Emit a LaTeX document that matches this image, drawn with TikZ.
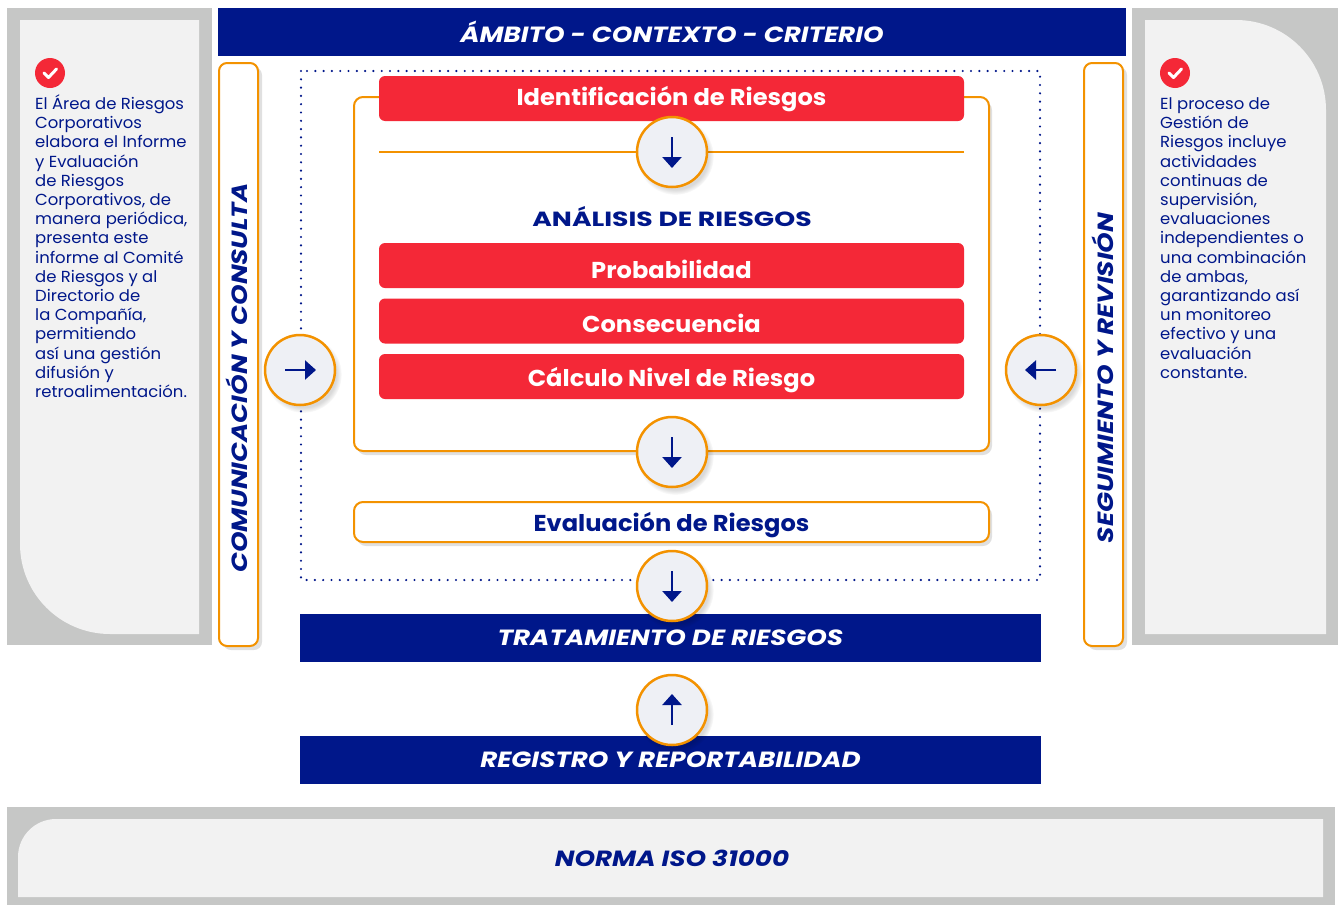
\documentclass[tikz,border=0pt]{standalone}
\usepackage{fontspec}
\setmainfont{Poppins}[FakeStretch=1.03]
\newfontfamily\capfont{Poppins}[FakeStretch=1.19]
\newfontfamily\analfont{Poppins}[FakeStretch=1.3]
\newfontfamily\boxfont{Poppins}[FakeStretch=1.05]
\usetikzlibrary{shadows,arrows.meta}
\definecolor{navy}{HTML}{00178A}
\definecolor{rred}{HTML}{F42837}
\definecolor{orng}{HTML}{F39200}
\definecolor{pgray}{HTML}{C6C7C6}
\definecolor{pfill}{HTML}{F2F2F2}
\definecolor{cfill}{HTML}{EEF0F5}
\begin{document}
\begin{tikzpicture}[x=1pt,y=-1pt,
  bar/.style={fill=navy, text=white, minimum height=48pt, inner sep=0pt,
    font=\capfont\fontsize{22}{24}\selectfont\bfseries\itshape},
  redbox/.style={fill=rred, rounded corners=6pt, minimum width=585pt, minimum height=45pt,
    inner sep=0pt, text=white, text height=22pt, text depth=0pt,
    font=\boxfont\fontsize{23}{25}\selectfont\bfseries},
  obox/.style={draw=orng, line width=2pt, fill=white, rounded corners=9pt,
    drop shadow={shadow xshift=3pt, shadow yshift=-4pt, opacity=0.12, fill=black}},
  vbox/.style={draw=orng, line width=2pt, fill=white, rounded corners=8pt,
    minimum width=39pt, minimum height=583pt, inner sep=0pt,
    drop shadow={shadow xshift=4pt, shadow yshift=-4pt, opacity=0.12, fill=black}},
  vlabel/.style={rotate=90, text=navy, inner sep=0pt, font=\capfont\fontsize{22}{24}\selectfont\bfseries\itshape},
  circ/.style={circle, draw=orng, line width=2.5pt, fill=cfill, minimum size=70pt, inner sep=0pt,
    circular drop shadow={shadow xshift=3pt, shadow yshift=-4pt, opacity=0.15, fill=black}},
  iconarrow/.style={navy, line width=2.6pt, -{Triangle[length=11pt,width=19pt]}},
  bodytext/.style={anchor=north west, align=left, inner sep=0pt, text=navy,
    font=\fontsize{16}{19.2}\selectfont},
  check/.style={circle, fill=rred, minimum size=30pt, inner sep=0pt},
  dotted box/.style={navy, line width=2.4pt, line cap=round, dash pattern=on 0pt off 8.3pt}
]
\useasboundingbox (0,0) rectangle (1338,905);
\fill[white] (0,0) rectangle (1338,905);

% side panels
\fill[pgray] (7,8) rectangle (212,645);
\fill[pfill] (20,20) -- (199,20) -- (199,634) -- (110,634)
  .. controls (60.3,634) and (20,593.7) .. (20,544) -- cycle;
\fill[pgray] (1132,8) rectangle (1338,645);
\fill[pfill] (1145,20) -- (1236,20) .. controls (1285.7,20) and (1326,60.3) .. (1326,110)
  -- (1326,634) -- (1145,634) -- cycle;
% bottom panel
\fill[pgray] (7,807) rectangle (1335,905);
\fill[pfill] (18,857) .. controls (18,836) and (35,819) .. (56,819) -- (1323,819) -- (1323,897) -- (18,897) -- cycle;
\node[text=navy, font=\capfont\fontsize{22}{24}\selectfont\bfseries\itshape] (iso) at (672,858) {NORMA ISO 31000};

% check icons and texts
\node[check] (chkL) at (50,73) {};
\draw[white, line width=3pt, line cap=round, line join=round] ([xshift=-6pt,yshift=0pt]chkL.center) -- ([xshift=-1.5pt,yshift=-4.5pt]chkL.center) -- ([xshift=6.5pt,yshift=4pt]chkL.center);
\node[check] (chkR) at (1175,73) {};
\draw[white, line width=3pt, line cap=round, line join=round] ([xshift=-6pt,yshift=0pt]chkR.center) -- ([xshift=-1.5pt,yshift=-4.5pt]chkR.center) -- ([xshift=6.5pt,yshift=4pt]chkR.center);

\node[bodytext] (txtL) at (35,94.5) {El Área de Riesgos\\Corporativos\\elabora el Informe\\y Evaluación\\de Riesgos\\Corporativos, de\\manera periódica,\\presenta este\\informe al Comité\\de Riesgos y al\\Directorio de\\la Compañía,\\permitiendo\\así una gestión\\difusión y\\retroalimentación.};
\node[bodytext] (txtR) at (1160,97.5) {El proceso de\\Gestión de\\Riesgos incluye\\actividades\\continuas de\\supervisión,\\evaluaciones\\independientes o\\una combinación\\de ambas,\\garantizando así\\un monitoreo\\efectivo y una\\evaluación\\constante.};

% top bar
\node[bar, minimum width=908pt] (ambito) at (672,32) {\raisebox{-4pt}{ÁMBITO - CONTEXTO - CRITERIO}};

% vertical boxes
\node[vbox] (comBox) at (238.5,354.5) {};
\node[vlabel] (comLbl) at (237,378) {COMUNICACIÓN Y CONSULTA};
\node[vbox] (segBox) at (1103.5,354.5) {};
\node[vlabel] (segLbl) at (1102.5,378) {SEGUIMIENTO Y REVISIÓN};

% dotted frame
\draw[dotted box] (301,71) rectangle (1040,580);

% analysis frame
\node[obox, minimum width=635pt, minimum height=354pt, inner sep=0pt] (frame) at (671.5,274) {};
\node[redbox, text height=18pt, text depth=4pt] (ident) at (671.5,98.5) {Identificación de Riesgos};
\draw[orng, line width=1.2pt] (379,152) -- (964,152);
\node[text=navy, inner sep=0pt, font=\analfont\fontsize{20.5}{24}\selectfont\bfseries] (anal) at (672,217) {ANÁLISIS DE RIESGOS};
\node[redbox, text height=26pt] (prob) at (671.5,265.5) {Probabilidad};
\node[redbox, text height=23pt] (cons) at (671.5,321) {Consecuencia};
\node[redbox, text height=20pt] (calc) at (671.5,376.5) {Cálculo Nivel de Riesgo};

\node[obox, minimum width=635pt, minimum height=40pt, inner sep=0pt, text=navy,
  text height=19pt, text depth=0pt,
  font=\boxfont\fontsize{23}{25}\selectfont\bfseries] (eval) at (671.5,522) {Evaluación de Riesgos};

% bars
\node[bar, minimum width=741pt] (trat) at (670.5,638) {TRATAMIENTO DE RIESGOS};
\node[bar, minimum width=741pt] (reg) at (670.5,760) {REGISTRO Y REPORTABILIDAD};

% circles
\node[circ] (c1) at (672,152) {};
\node[circ] (c2) at (672,452) {};
\node[circ] (c3) at (672,586) {};
\node[circ] (c4) at (672,710) {};
\node[circ] (cL) at (300,370) {};
\node[circ] (cR) at (1041,370) {};
\draw[iconarrow] ([yshift=15pt]c1.center) -- ([yshift=-16pt]c1.center);
\draw[iconarrow] ([yshift=15pt]c2.center) -- ([yshift=-16pt]c2.center);
\draw[iconarrow] ([yshift=15pt]c3.center) -- ([yshift=-16pt]c3.center);
\draw[iconarrow] ([yshift=-15pt]c4.center) -- ([yshift=16pt]c4.center);
\draw[iconarrow] ([xshift=-15pt]cL.center) -- ([xshift=16pt]cL.center);
\draw[iconarrow] ([xshift=15pt]cR.center) -- ([xshift=-16pt]cR.center);
\end{tikzpicture}
\end{document}
